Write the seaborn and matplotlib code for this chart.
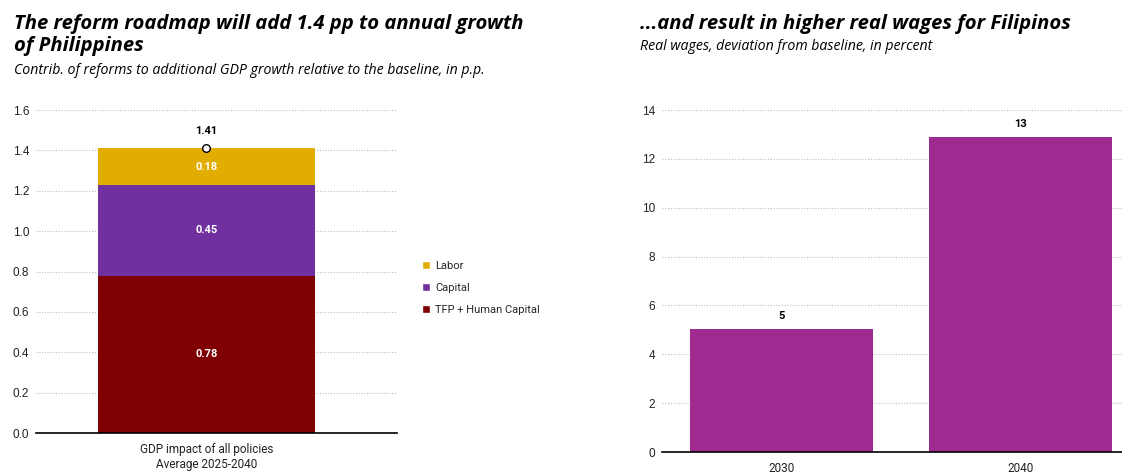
import matplotlib
matplotlib.use('Agg')
import matplotlib.pyplot as plt
import seaborn as sns
import pandas as pd
from matplotlib.patches import Patch

# data
components = ['TFP + Human Capital', 'Capital', 'Labor']
contrib = [0.78, 0.45, 0.18]
total_label = 1.41
gdp_category = ['GDP impact of all policies\nAverage 2025-2040']
comp_colors = ['#7F0000', '#7030A0', '#E1AD01']

years = ['2030', '2040']
wages = [5.02, 12.88]
wage_labels = ['5', '13']
wage_color = '#A02B90'

sns.set_theme(style='white')
plt.rcParams['font.family'] = ['Liberation Sans', 'DejaVu Sans']

fig = plt.figure(figsize=(11.22, 4.73), dpi=100)
ax1 = fig.add_axes([36 / 1122, 40 / 473, 361 / 1122, 323 / 473])
ax2 = fig.add_axes([662 / 1122, 21 / 473, 460 / 1122, 342 / 473])

# stacked bar: draw cumulative totals from top down so lower segments overlap
cum = pd.Series(contrib).cumsum().tolist()
for i in reversed(range(len(components))):
    sns.barplot(x=gdp_category, y=[cum[i]], color=comp_colors[i], width=0.6,
                saturation=1, linewidth=0, ax=ax1, zorder=2)
for i in range(len(components)):
    mid = cum[i] - contrib[i] / 2
    ax1.text(0, mid, f'{contrib[i]:.2f}', ha='center', va='center',
             color='white', fontsize=8, fontweight='bold', family='Roboto')
ax1.scatter([0], [sum(contrib)], s=30, facecolor='white', edgecolor='black',
            linewidth=1, zorder=4)
ax1.text(0, sum(contrib) + 0.06, f'{total_label:.2f}', ha='center', va='bottom',
         fontsize=8, fontweight='bold', family='Roboto', color='black')
ax1.set_xlim(-0.472, 0.528)
ax1.set_ylim(0, 1.6)
ax1.set_yticks([0, 0.2, 0.4, 0.6, 0.8, 1.0, 1.2, 1.4, 1.6])
ax1.set_yticklabels([f'{v:.1f}' for v in ax1.get_yticks()])

sns.barplot(x=years, y=wages, color=wage_color, width=0.766, saturation=1,
            linewidth=0, ax=ax2, zorder=2)
for i, lab in enumerate(wage_labels):
    ax2.text(i, wages[i] + 0.35, lab, ha='center', va='bottom', fontsize=8,
             fontweight='bold', family='Roboto', color='black')
ax2.set_xlim(-0.5, 1.425)
ax2.set_ylim(0, 14)
ax2.set_yticks(range(0, 15, 2))

for ax in (ax1, ax2):
    for s in ['left', 'right', 'top']:
        ax.spines[s].set_visible(False)
    ax.spines['bottom'].set_color('black')
    ax.spines['bottom'].set_linewidth(1.2)
    ax.spines['bottom'].set_zorder(5)
    ax.yaxis.grid(True, linestyle=(0, (1, 1.5)), color='#BDBDBD', linewidth=0.8)
    ax.set_axisbelow(True)
    ax.tick_params(axis='y', labelsize=8.5, colors='#222222', length=0, pad=5)
    ax.tick_params(axis='x', labelsize=8.5, colors='#222222', length=0, pad=7)
    ax.set_xlabel('')
    ax.set_ylabel('')
for lab in ax1.get_xticklabels() + ax2.get_xticklabels():
    lab.set_family('Roboto')

handles = [Patch(facecolor=comp_colors[i], label=components[i]) for i in [2, 1, 0]]
fig.legend(handles=handles, loc='center left', bbox_to_anchor=(412 / 1122, 1 - 288 / 473),
           frameon=False, handlelength=0.7, handleheight=0.7,
           handletextpad=0.5, labelspacing=1.1, prop={'family': 'Roboto', 'size': 8})

title_kw = dict(ha='left', va='top', fontsize=14.6, fontweight='bold', style='italic',
                family=['Open Sans', 'DejaVu Sans'], color='black')
sub_kw = dict(ha='left', va='top', fontsize=10.2, style='italic',
              family=['Open Sans', 'DejaVu Sans'], color='black')
fig.text(14 / 1122, 1 - 14 / 473,
         'The reform roadmap will add 1.4 pp to annual growth\nof Philippines',
         linespacing=1.15, **title_kw)
fig.text(14 / 1122, 1 - 63 / 473,
         'Contrib. of reforms to additional GDP growth relative to the baseline, in p.p.',
         **sub_kw)
fig.text(640 / 1122, 1 - 14 / 473,
         '...and result in higher real wages for Filipinos', **title_kw)
fig.text(640 / 1122, 1 - 39 / 473,
         'Real wages, deviation from baseline, in percent', **sub_kw)

fig.savefig('out.png', dpi=100, facecolor='white')
